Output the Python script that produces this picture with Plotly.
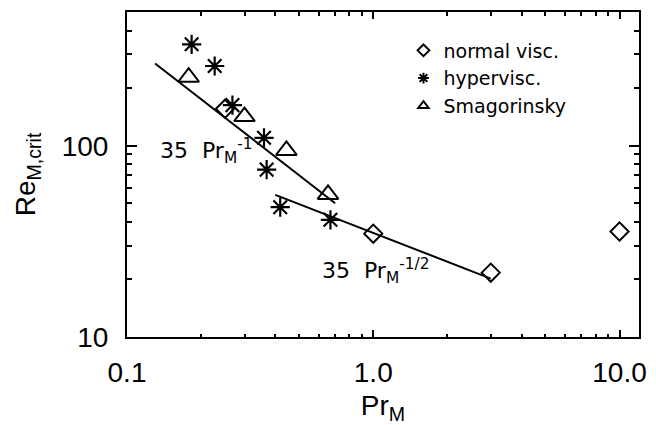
import plotly.graph_objects as go

# Critical magnetic Reynolds number versus magnetic Prandtl number
normal_pr = [0.25, 1.0, 3.0, 10.0]
normal_re = [156, 34.7, 21.7, 35.6]

hyper_pr = [0.183, 0.227, 0.268, 0.36, 0.369, 0.419, 0.67]
hyper_re = [339, 261, 163, 110, 75, 47.7, 41.0]

smag_pr = [0.178, 0.30, 0.444, 0.655]
smag_re = [228, 142, 94.5, 55.6]

# Power-law fits: Re = 35 Pr^p over the given Pr span
fit_coef = 35
fit1_exp, fit1_span = -1.0, [0.13, 0.70]
fit2_exp, fit2_span = -0.5, [0.40, 3.0]

legend_names = ["normal visc.", "hypervisc.", "Smagorinsky"]
legend_symbols = ["diamond-open", "asterisk-open", "triangle-up-open"]

x_tickvals = [0.1, 1.0, 10.0]
x_ticktext = ["0.1", "1.0", "10.0"]
y_tickvals = [10, 100]
y_ticktext = ["10", "100"]

AXFONT = "Liberation Sans"
TXTFONT = "DejaVu Sans"
BLACK = "black"

fig = go.Figure()

for span, p in ((fit1_span, fit1_exp), (fit2_span, fit2_exp)):
    fig.add_trace(go.Scatter(
        x=span, y=[fit_coef * v ** p for v in span], mode="lines",
        line=dict(color=BLACK, width=2), showlegend=False, hoverinfo="skip"))

fig.add_trace(go.Scatter(x=normal_pr, y=normal_re, mode="markers", showlegend=False,
                         marker=dict(symbol="diamond-open", size=14, color=BLACK,
                                     line=dict(width=2, color=BLACK))))
fig.add_trace(go.Scatter(x=hyper_pr, y=hyper_re, mode="markers", showlegend=False,
                         marker=dict(symbol="asterisk-open", size=16, color=BLACK,
                                     line=dict(width=2.2, color=BLACK))))
fig.add_trace(go.Scatter(x=smag_pr, y=smag_re, mode="markers", showlegend=False,
                         marker=dict(symbol="triangle-up-open", size=18, color=BLACK,
                                     line=dict(width=2, color=BLACK))))

# Legend entries with smaller symbols
for name, sym in zip(legend_names, legend_symbols):
    fig.add_trace(go.Scatter(x=[None], y=[None], mode="markers", name=name,
                             marker=dict(symbol=sym, size=9, color=BLACK,
                                         line=dict(width=2, color=BLACK))))

minor_x = [d * k for d in (0.1, 1.0) for k in range(2, 10)]
minor_y = [d * k for d in (10, 100) for k in range(2, 10)]

axis_common = dict(
    type="log", showgrid=False, zeroline=False, showline=True, linecolor=BLACK,
    linewidth=2, mirror="ticks", ticks="inside", tickcolor=BLACK, tickwidth=1.5,
    tickfont=dict(family=AXFONT, size=28, color=BLACK),
)

fig.update_xaxes(
    **axis_common, range=[-1, 1.079], tickmode="array", tickvals=x_tickvals,
    ticktext=x_ticktext, ticklen=7, ticklabelstandoff=9,
    minor=dict(tickmode="array", tickvals=minor_x, ticks="inside", ticklen=3.5,
               tickcolor=BLACK, tickwidth=1.5, showgrid=False),
    title=dict(text="Pr<sub>M</sub>", font=dict(family=AXFONT, size=28, color=BLACK),
               standoff=14),
)
fig.update_yaxes(
    **axis_common, range=[1, 2.699], tickmode="array", tickvals=y_tickvals,
    ticktext=y_ticktext, ticklen=10, ticklabelstandoff=11,
    minor=dict(tickmode="array", tickvals=minor_y, ticks="inside", ticklen=5,
               tickcolor=BLACK, tickwidth=1.5, showgrid=False),
    title=dict(text="Re<sub>M,crit</sub>", font=dict(family=AXFONT, size=28, color=BLACK),
               standoff=18),
)

fig.add_annotation(x=-0.876, y=1.974, xref="x", yref="y", xanchor="left", yanchor="middle",
                   text="35  Pr<sub>M</sub><sup>-1</sup>", showarrow=False,
                   font=dict(family=TXTFONT, size=22, color=BLACK))
fig.add_annotation(x=-0.218, y=1.344, xref="x", yref="y", xanchor="left", yanchor="middle",
                   text="35  Pr<sub>M</sub><sup>-1/2</sup>", showarrow=False,
                   font=dict(family=TXTFONT, size=22, color=BLACK))

fig.update_layout(
    width=656, height=425,
    margin=dict(l=127, r=17, t=12, b=88, autoexpand=False),
    paper_bgcolor="white", plot_bgcolor="white",
    showlegend=True,
    legend=dict(x=0.54, y=0.94, xanchor="left", yanchor="top", bgcolor="rgba(0,0,0,0)",
                borderwidth=0, itemwidth=30, tracegroupgap=0,
                font=dict(family=TXTFONT, size=19, color=BLACK)),
)

fig.write_html("out.html")
